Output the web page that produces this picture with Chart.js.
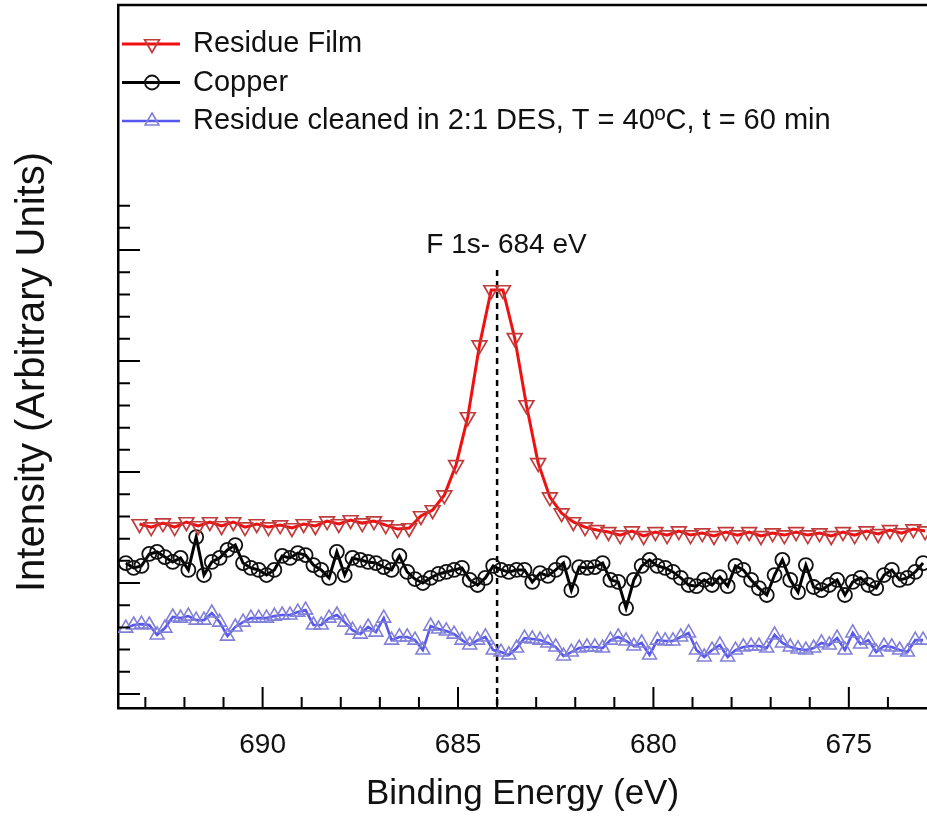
<!DOCTYPE html>
<html>
<head>
<meta charset="utf-8">
<title>F 1s spectra</title>
<script src="https://cdn.jsdelivr.net/npm/chart.js@4.4.1/dist/chart.umd.min.js"></script>
<style>
  html, body { margin: 0; padding: 0; background: #fff; }
  #wrap { width: 927px; height: 820px; }
</style>
</head>
<body>
<div id="wrap"><canvas id="xpsChart" width="927" height="820"></canvas></div>
<script>
// === F 1s REGION: residue film vs copper vs cleaned residue ===

const FONT = '"Liberation Sans", Arial, Helvetica, sans-serif';

// binding energy grid of the residue film scan (eV)
const energyCoarse = [
  693.15, 692.85, 692.55, 692.25, 691.95, 691.65, 691.35, 691.05, 690.75, 690.45,
  690.15, 689.85, 689.55, 689.25, 688.95, 688.65, 688.35, 688.05, 687.75, 687.45,
  687.15, 686.85, 686.55, 686.25, 685.95, 685.65, 685.35, 685.05, 684.75, 684.45,
  684.15, 683.85, 683.55, 683.25, 682.95, 682.65, 682.35, 682.05, 681.75, 681.45,
  681.15, 680.85, 680.55, 680.25, 679.95, 679.65, 679.35, 679.05, 678.75, 678.45,
  678.15, 677.85, 677.55, 677.25, 676.95, 676.65, 676.35, 676.05, 675.75, 675.45,
  675.15, 674.85, 674.55, 674.25, 673.95, 673.65, 673.35, 673.05
];

const residueFilm = [
  7.66, 7.52, 7.70, 7.52, 7.75, 7.57, 7.75, 7.57, 7.75, 7.52,
  7.66, 7.52, 7.61, 7.48, 7.66, 7.57, 7.79, 7.66, 7.84, 7.70,
  7.79, 7.61, 7.43, 7.48, 8.02, 8.29, 8.96, 10.32, 12.48, 15.72,
  18.20, 18.20, 16.04, 13.02, 10.41, 8.87, 8.15, 7.75, 7.52, 7.39,
  7.30, 7.16, 7.34, 7.12, 7.30, 7.16, 7.34, 7.16, 7.25, 7.12,
  7.30, 7.16, 7.30, 7.12, 7.25, 7.16, 7.30, 7.16, 7.25, 7.12,
  7.30, 7.16, 7.34, 7.21, 7.39, 7.25, 7.43, 7.34
];

// binding energy grid of the copper and cleaned scans (eV)
const energyFine = [
  693.5, 693.3, 693.1, 692.9, 692.7, 692.5, 692.3, 692.1, 691.9, 691.7,
  691.5, 691.3, 691.1, 690.9, 690.7, 690.5, 690.3, 690.1, 689.9, 689.7,
  689.5, 689.3, 689.1, 688.9, 688.7, 688.5, 688.3, 688.1, 687.9, 687.7,
  687.5, 687.3, 687.1, 686.9, 686.7, 686.5, 686.3, 686.1, 685.9, 685.7,
  685.5, 685.3, 685.1, 684.9, 684.7, 684.5, 684.3, 684.1, 683.9, 683.7,
  683.5, 683.3, 683.1, 682.9, 682.7, 682.5, 682.3, 682.1, 681.9, 681.7,
  681.5, 681.3, 681.1, 680.9, 680.7, 680.5, 680.3, 680.1, 679.9, 679.7,
  679.5, 679.3, 679.1, 678.9, 678.7, 678.5, 678.3, 678.1, 677.9, 677.7,
  677.5, 677.3, 677.1, 676.9, 676.7, 676.5, 676.3, 676.1, 675.9, 675.7,
  675.5, 675.3, 675.1, 674.9, 674.7, 674.5, 674.3, 674.1, 673.9, 673.7,
  673.5, 673.3, 673.1
];

const copper = [
  5.90, 5.68, 5.77, 6.31, 6.40, 6.17, 5.95, 6.13, 5.59, 7.07,
  5.36, 5.95, 6.13, 6.49, 6.71, 5.90, 5.68, 5.59, 5.36, 5.59,
  6.22, 6.13, 6.35, 6.26, 5.81, 5.59, 5.23, 6.40, 5.36, 6.13,
  6.04, 5.95, 5.90, 5.72, 5.59, 6.22, 5.50, 5.18, 5.00, 5.23,
  5.41, 5.50, 5.59, 5.68, 5.14, 4.91, 5.23, 5.77, 5.59, 5.50,
  5.59, 5.59, 5.05, 5.45, 5.32, 5.59, 5.90, 4.68, 5.72, 5.68,
  5.72, 5.90, 5.14, 5.05, 3.87, 5.14, 5.77, 6.04, 5.77, 5.68,
  5.50, 5.23, 4.91, 4.86, 5.14, 4.91, 5.27, 4.86, 5.77, 5.59,
  5.14, 4.77, 4.46, 5.36, 6.04, 5.14, 4.59, 5.81, 4.82, 4.68,
  4.91, 5.14, 4.46, 5.05, 5.23, 4.91, 4.77, 5.36, 5.59, 5.14,
  5.23, 5.50, 5.90
];

const residueCleaned = [
  2.97, 3.11, 3.15, 3.11, 2.66, 2.97, 3.47, 3.42, 3.51, 3.33,
  3.33, 3.65, 3.24, 2.61, 3.02, 3.24, 3.42, 3.42, 3.42, 3.51,
  3.56, 3.56, 3.69, 3.78, 3.11, 3.11, 3.42, 3.56, 3.24, 2.88,
  2.70, 3.02, 2.79, 3.42, 2.43, 2.57, 2.57, 2.43, 1.98, 3.06,
  2.93, 2.84, 2.70, 2.43, 2.21, 2.43, 2.57, 1.98, 1.89, 1.76,
  2.07, 2.52, 2.48, 2.43, 2.30, 2.12, 1.71, 1.89, 2.07, 2.12,
  2.12, 2.07, 2.43, 2.57, 2.39, 2.16, 2.30, 1.76, 2.43, 2.39,
  2.39, 2.57, 2.75, 1.98, 1.67, 1.98, 2.21, 1.67, 1.98, 2.12,
  2.16, 2.16, 2.07, 2.66, 2.30, 2.12, 2.03, 1.98, 2.07, 2.30,
  2.21, 2.52, 1.98, 2.75, 2.25, 2.43, 1.89, 2.16, 2.12, 1.98,
  1.89, 2.43, 2.43
];

// F 1s marker line
const peakLineEnergy = [684, 684];
const peakLineLevel = [19.1, -0.7];
const peakLabel = 'F 1s- 684 eV';

// axis ticks
const xMajorTicks = [690, 685, 680, 675];
const xMinorTicks = [693, 692, 691, 689, 688, 687, 686, 684, 683, 682, 681, 679, 678, 677, 676, 674];
const yMajorTicks = [0, 5, 10, 15, 20];
const yMinorTicks = [1, 2, 3, 4, 6, 7, 8, 9, 11, 12, 13, 14, 16, 17, 18, 19, 21, 22];

const toPoints = (xs, ys) => xs.map((x, i) => ({ x: x, y: ys[i] }));

// inward tick marks + top frame line
const frameTicks = {
  id: 'frameTicks',
  afterDraw(chart) {
    const { ctx, chartArea } = chart;
    const xs = chart.scales.x;
    const ys = chart.scales.y;
    ctx.save();
    ctx.strokeStyle = '#000';
    ctx.lineWidth = 2;
    ctx.beginPath();
    xMajorTicks.forEach(v => {
      const px = xs.getPixelForValue(v);
      ctx.moveTo(px, chartArea.bottom);
      ctx.lineTo(px, chartArea.bottom - 21);
    });
    xMinorTicks.forEach(v => {
      const px = xs.getPixelForValue(v);
      ctx.moveTo(px, chartArea.bottom);
      ctx.lineTo(px, chartArea.bottom - 11);
    });
    yMajorTicks.forEach(v => {
      const py = ys.getPixelForValue(v);
      ctx.moveTo(chartArea.left, py);
      ctx.lineTo(chartArea.left + 22, py);
    });
    yMinorTicks.forEach(v => {
      const py = ys.getPixelForValue(v);
      ctx.moveTo(chartArea.left, py);
      ctx.lineTo(chartArea.left + 12, py);
    });
    ctx.stroke();

    ctx.lineWidth = 2.5;
    ctx.beginPath();
    ctx.moveTo(chartArea.left - 1, chartArea.top);
    ctx.lineTo(chartArea.right, chartArea.top);
    ctx.stroke();

    // peak label
    ctx.fillStyle = '#111';
    ctx.font = '28px ' + FONT;
    ctx.textAlign = 'center';
    ctx.textBaseline = 'middle';
    ctx.fillText(peakLabel, xs.getPixelForValue(683.76), ys.getPixelForValue(20.2));

    // y axis title
    ctx.translate(33, 372);
    ctx.rotate(-Math.PI / 2);
    ctx.font = '40px ' + FONT;
    ctx.fillText('Intensity (Arbitrary Units)', 0, 0);
    ctx.restore();
  }
};

// legend drawn inside the plot, line + hollow marker + text
const insideLegend = {
  id: 'insideLegend',
  afterDraw(chart) {
    const { ctx, chartArea } = chart;
    ctx.save();
    ctx.font = '29px ' + FONT;
    ctx.textAlign = 'left';
    ctx.textBaseline = 'middle';
    chart.data.datasets.filter(ds => ds.inLegend).forEach((ds, i) => {
      const y = chartArea.top + 39 + i * 38.5;
      const x0 = chartArea.left + 4;
      ctx.setLineDash([]);
      ctx.strokeStyle = ds.borderColor;
      ctx.lineWidth = ds.borderWidth;
      ctx.beginPath();
      ctx.moveTo(x0, y);
      ctx.lineTo(x0 + 58, y);
      ctx.stroke();
      ctx.strokeStyle = ds.pointBorderColor;
      ctx.fillStyle = 'rgba(0,0,0,0)';
      ctx.lineWidth = ds.pointBorderWidth;
      Chart.helpers.drawPoint(ctx, {
        pointStyle: ds.pointStyle,
        rotation: ds.pointRotation || 0,
        radius: ds.pointRadius,
        borderWidth: ds.pointBorderWidth
      }, x0 + 30, y);
      ctx.fillStyle = '#111';
      ctx.fillText(ds.label, x0 + 71, y);
    });
    ctx.restore();
  }
};

new Chart(document.getElementById('xpsChart'), {
  type: 'line',
  data: {
    datasets: [
      {
        label: 'Residue Film',
        inLegend: true,
        data: toPoints(energyCoarse, residueFilm),
        borderColor: '#f01010',
        borderWidth: 3,
        pointStyle: 'triangle',
        pointRotation: 180,
        pointRadius: 8.5,
        pointBorderColor: '#c03c3c',
        pointBorderWidth: 1.7,
        pointBackgroundColor: 'rgba(0,0,0,0)'
      },
      {
        label: 'Copper',
        inLegend: true,
        data: toPoints(energyFine, copper),
        borderColor: '#000000',
        borderWidth: 3,
        pointStyle: 'circle',
        pointRadius: 7,
        pointBorderColor: '#111111',
        pointBorderWidth: 1.8,
        pointBackgroundColor: 'rgba(0,0,0,0)'
      },
      {
        label: 'Residue cleaned in 2:1 DES, T = 40ºC, t = 60 min',
        inLegend: true,
        data: toPoints(energyFine, residueCleaned),
        borderColor: '#5656f0',
        borderWidth: 2.6,
        pointStyle: 'triangle',
        pointRadius: 8,
        pointBorderColor: '#8080d8',
        pointBorderWidth: 1.6,
        pointBackgroundColor: 'rgba(0,0,0,0)'
      },
      {
        label: 'peak',
        data: toPoints(peakLineEnergy, peakLineLevel),
        borderColor: '#000000',
        borderWidth: 2.5,
        borderDash: [6, 5],
        pointRadius: 0
      }
    ]
  },
  options: {
    responsive: false,
    animation: false,
    layout: { autoPadding: false, padding: { top: 5, left: 0, right: 0, bottom: 0 } },
    plugins: {
      legend: { display: false },
      tooltip: { enabled: false }
    },
    scales: {
      x: {
        type: 'linear',
        reverse: true,
        min: 673.0,
        max: 693.7,
        afterBuildTicks: s => { s.ticks = xMajorTicks.map(v => ({ value: v })); },
        afterFit: s => { s.height = 112; s.paddingLeft = 0; s.paddingRight = 0; },
        grid: { display: false, drawTicks: false },
        border: { display: true, color: '#000', width: 2.5 },
        ticks: {
          color: '#111',
          autoSkip: false,
          maxRotation: 0,
          padding: 20,
          font: { family: FONT, size: 28 }
        },
        title: {
          display: true,
          text: 'Binding Energy (eV)',
          color: '#111',
          font: { family: FONT, size: 35 },
          padding: { top: 0, bottom: 5 }
        }
      },
      y: {
        type: 'linear',
        min: -0.63,
        max: 31.04,
        afterBuildTicks: s => { s.ticks = yMajorTicks.map(v => ({ value: v })); },
        afterFit: s => { s.width = 118; s.paddingTop = 0; s.paddingBottom = 0; },
        grid: { display: false, drawTicks: false },
        border: { display: true, color: '#000', width: 2.5 },
        ticks: { display: false }
      }
    }
  },
  plugins: [frameTicks, insideLegend]
});
</script>
</body>
</html>
